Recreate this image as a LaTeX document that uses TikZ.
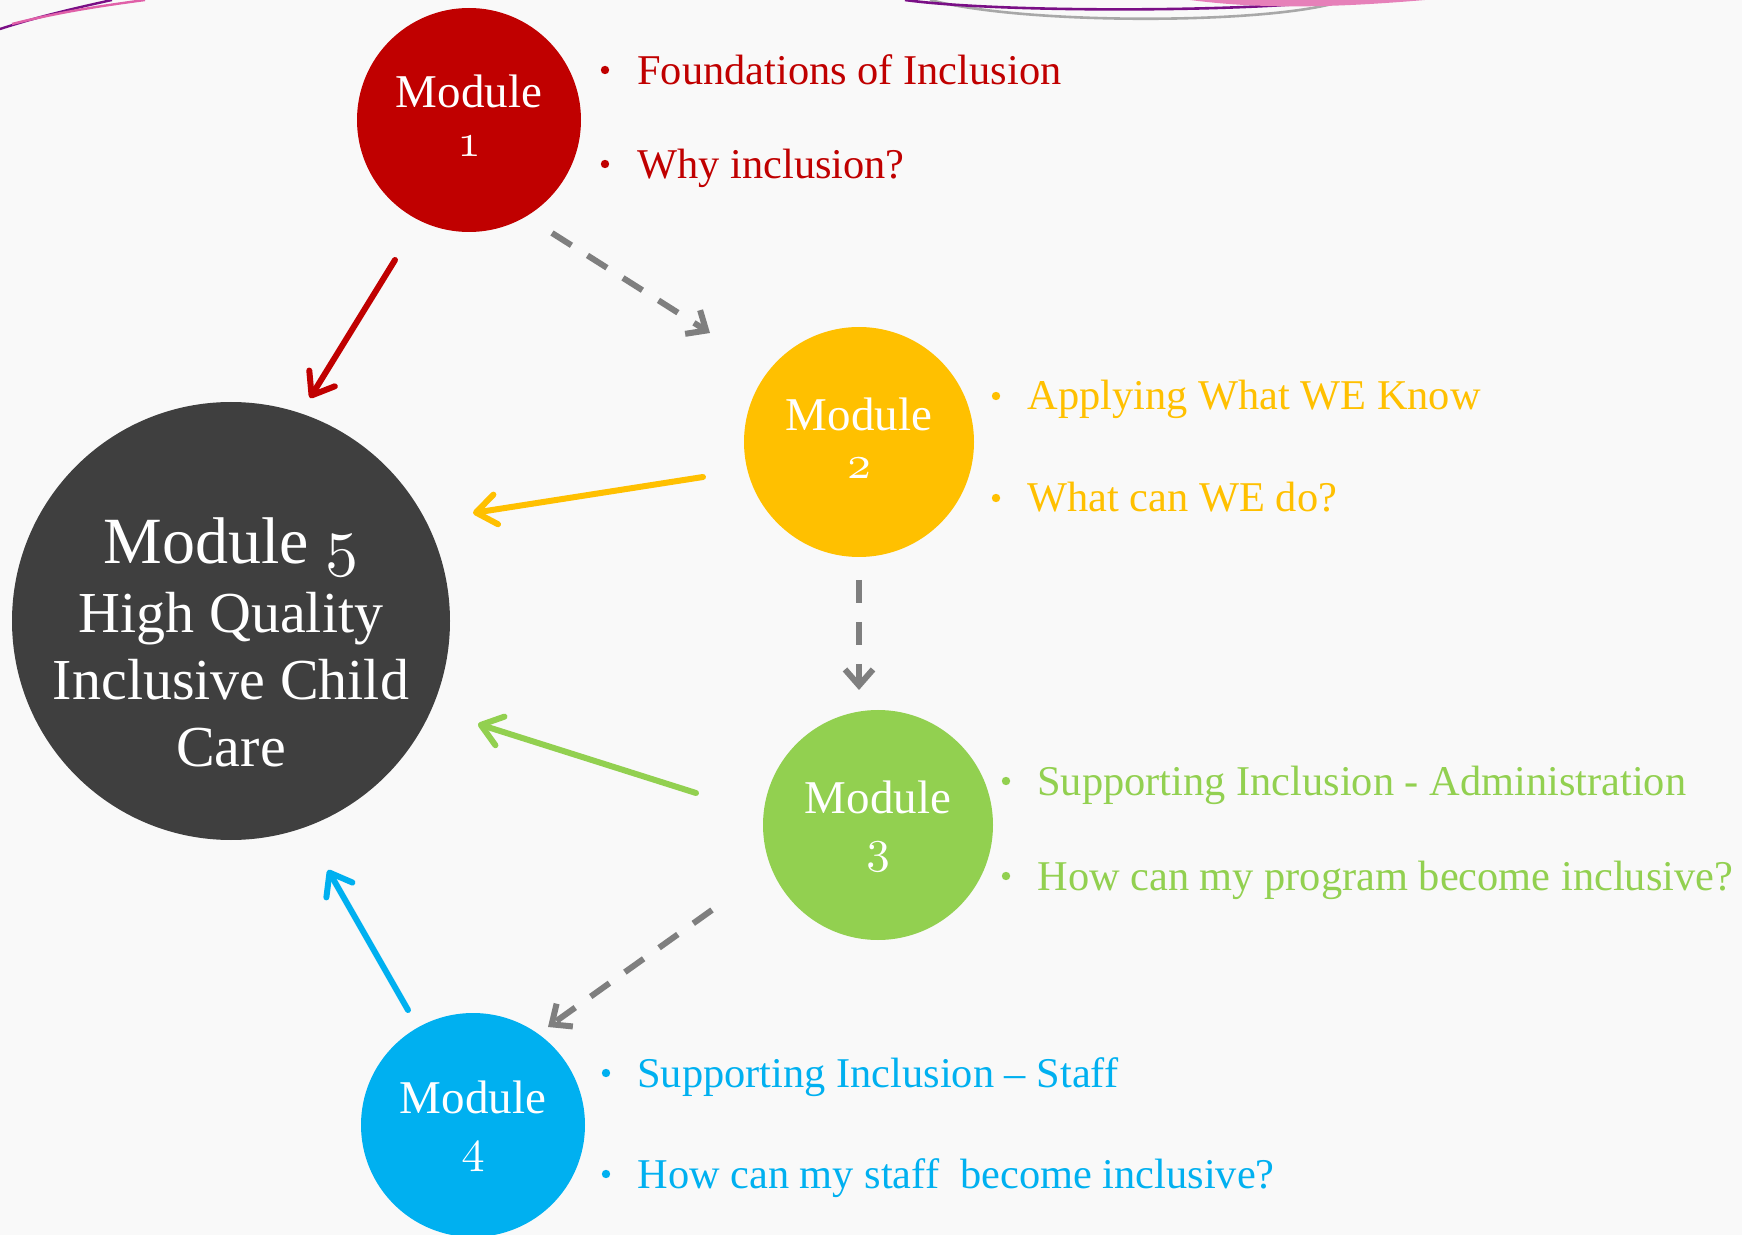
\documentclass[tikz,border=0pt]{standalone}
\usepackage{fontspec}
\setmainfont{Liberation Serif}
\usetikzlibrary{arrows.meta}
\definecolor{mred}{HTML}{C00000}
\definecolor{myellow}{HTML}{FFC000}
\definecolor{mgreen}{HTML}{92D050}
\definecolor{mblue}{HTML}{00B0F0}
\definecolor{mdark}{HTML}{3F3F3F}
\definecolor{mgray}{HTML}{7F7F7F}
\definecolor{bgcol}{HTML}{F9F9F9}
\definecolor{decpurple}{HTML}{7A0F86}
\definecolor{decpink}{HTML}{E060A8}
\definecolor{decgray}{HTML}{A8A8A8}
\newcommand\osn[2]{\scalebox{#1}{\fontsize{10}{12}\selectfont$\mathnormal{#2}$}}
\begin{document}
\begin{tikzpicture}[x=0.5pt,y=-0.5pt]
\tikzset{
  modcirc/.style={circle, inner sep=0pt, draw=none},
  modtxt/.style={anchor=base, text=white, font=\fontsize{23.5}{28}\selectfont, inner sep=0pt},
  bigtxt/.style={anchor=base, text=white, font=\fontsize{29}{34}\selectfont, inner sep=0pt},
  itemtxt/.style={anchor=base west, font=\fontsize{21.2}{25}\selectfont, inner sep=0pt},
  flow/.style={line width=3pt, line cap=round, -{Straight Barb[length=10pt,width=15pt,round]}},
  seq/.style={draw=mgray, line width=3pt, dash pattern=on 11.5pt off 9.5pt, -{Straight Barb[length=8pt,width=14pt]}},
}
\useasboundingbox (0,0) rectangle (1742,1235);
\fill[bgcol] (0,0) rectangle (1742,1235);
% decorative curves
\draw[decpurple, line width=1.2pt] (0,29) .. controls (40,16) and (80,7) .. (112,0);
\draw[decpink, line width=1.2pt] (12,24) .. controls (60,12) and (100,6) .. (145,0);
\draw[decgray, line width=1.3pt] (930,0) .. controls (1030,26) and (1280,24) .. (1345,0);
\draw[decpurple, line width=1.3pt] (905,0) .. controls (1000,13) and (1250,12) .. (1340,0);
\fill[decpink!80] (1190,0) .. controls (1260,9) and (1330,8) .. (1425,0) -- cycle;
% circles
\node[modcirc, fill=mred, minimum size=112pt] (m1) at (469,120) {};
\node[modcirc, fill=myellow, minimum size=115pt] (m2) at (859,442) {};
\node[modcirc, fill=mgreen, minimum size=115pt] (m3) at (878,825) {};
\node[modcirc, fill=mblue, minimum size=112pt] (m4) at (473,1125) {};
\node[modcirc, fill=mdark, minimum size=219pt] (m5) at (231,621) {};
% circle texts
\node[modtxt] (m1a) at (469,108) {Module};
\node[modtxt] (m1b) at (469,157) {\osn{2.35}{1}};
\node[modtxt] (m2a) at (859,431) {Module};
\node[modtxt] (m2b) at (859,479) {\osn{2.35}{2}};
\node[modtxt] (m3a) at (878,813) {Module};
\node[modtxt] (m3b) at (878,862) {\osn{2.35}{3}};
\node[modtxt] (m4a) at (473,1113) {Module};
\node[modtxt] (m4b) at (473,1162) {\osn{2.35}{4}};
\node[bigtxt, font=\fontsize{33}{38}\selectfont] (m5a) at (231,564) {Module \osn{3.3}{5}};
\node[bigtxt] (m5b) at (231,633) {High Quality};
\node[bigtxt] (m5c) at (231,700) {Inclusive Child};
\node[bigtxt] (m5d) at (231,767) {Care};
% bullets and items
\fill[mred] (605,70) circle (4.2);
\fill[mred] (605,164) circle (4.2);
\node[itemtxt, text=mred] (t1a) at (637,85) {Foundations of Inclusion};
\node[itemtxt, text=mred] (t1b) at (637,179) {Why inclusion?};
\fill[myellow] (996,396) circle (4.2);
\fill[myellow] (996,498) circle (4.2);
\node[itemtxt, text=myellow] (t2a) at (1027,410) {Applying What WE Know};
\node[itemtxt, text=myellow] (t2b) at (1027,512) {What can WE do?};
\fill[mgreen] (1006,781) circle (4.2);
\fill[mgreen] (1006,876) circle (4.2);
\node[itemtxt, text=mgreen] (t3a) at (1037,795) {Supporting Inclusion - Administration};
\node[itemtxt, text=mgreen] (t3b) at (1037,890) {How can my program become inclusive?};
\fill[mblue] (606,1073) circle (4.2);
\fill[mblue] (606,1174) circle (4.2);
\node[itemtxt, text=mblue] (t4a) at (637,1087) {Supporting Inclusion – Staff};
\node[itemtxt, text=mblue] (t4b) at (637,1188) {How can my staff\ \ become inclusive?};
% connector end points
\coordinate (r1) at (395,260); \coordinate (r2) at (310,398);
\coordinate (y1) at (703,477); \coordinate (y2) at (473,513);
\coordinate (g1) at (696,793); \coordinate (g2) at (478,724);
\coordinate (b1) at (408,1010); \coordinate (b2) at (328,870);
\coordinate (s1) at (552,233); \coordinate (s2) at (710,333);
\coordinate (s3) at (859,580); \coordinate (s4) at (859,690);
\coordinate (s5) at (712,910); \coordinate (s6) at (548,1027);
% connectors
\draw[flow, mred] (r1) -- (r2);
\draw[flow, myellow] (y1) -- (y2);
\draw[flow, mgreen] (g1) -- (g2);
\draw[flow, mblue] (b1) -- (b2);
\draw[seq] (s1) -- (s2);
\draw[seq] (s3) -- (s4);
\draw[seq] (s5) -- (s6);
\end{tikzpicture}
\end{document}
